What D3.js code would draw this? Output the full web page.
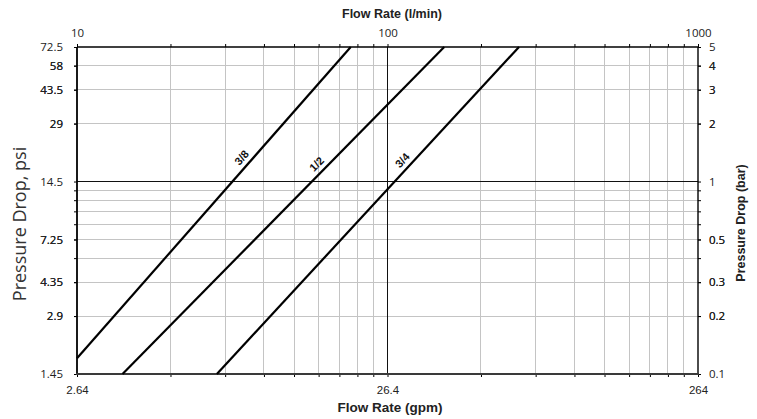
<!DOCTYPE html>
<html><head><meta charset="utf-8">
<script src="https://cdn.jsdelivr.net/npm/d3@7"></script>
<style>
body{margin:0;background:#fff;}
svg{display:block;}
</style></head><body>
<svg id="chart" width="757" height="419"></svg>
<script>
// Tick labels: flow in gpm (bottom) and l/min (top); pressure in psi (left) and bar (right)
const gpmTicks = [2.64, 26.4, 264];
const lpmTicks = [10, 100, 1000];
const psiTicks = [72.5, 58, 43.5, 29, 14.5, 7.25, 4.35, 2.9, 1.45];
const barTicks = [5, 4, 3, 2, 1, 0.5, 0.3, 0.2, 0.1];

// Grid divisions
const lpmGrid = [20, 30, 40, 50, 60, 70, 80, 90, 200, 300, 400, 500, 600, 700, 800, 900];
const barGrid = [0.2, 0.3, 0.4, 0.5, 0.6, 0.7, 0.8, 0.9, 2, 3, 4];
const lpmMajor = [100];
const barMajor = [1];

// Valve sizes: each curve is straight on log-log axes, given by its end points
const sizes = ["3/8", "1/2", "3/4"];
const curveGpm = [[2.64, 20.1], [3.70, 40.2], [7.45, 70.0]];
const curvePsi = [[1.75, 72.5], [1.45, 72.5], [1.45, 72.5]];
const labelPsi = [18, 16.6, 17.4];

const svg = d3.select("#chart");
const m = {left: 77, right: 698, top: 47, bottom: 374};

const x = d3.scaleLog().domain([2.64, 264]).range([m.left, m.right]);
const xTop = d3.scaleLog().domain([10, 1000]).range([m.left, m.right]);
const y = d3.scaleLog().domain([1.45, 72.5]).range([m.bottom, m.top]);
const yRight = d3.scaleLog().domain([0.1, 5]).range([m.bottom, m.top]);

const tickFont = "'Open Sans', sans-serif";
const gridColor = "#c4c4c4";

// grid
const grid = svg.append("g");
grid.selectAll("line.v").data(lpmGrid).join("line")
  .attr("x1", d => xTop(d)).attr("x2", d => xTop(d))
  .attr("y1", m.top).attr("y2", m.bottom)
  .attr("stroke", gridColor).attr("stroke-width", 1).attr("shape-rendering", "crispEdges");
grid.selectAll("line.h").data(barGrid).join("line")
  .attr("y1", d => yRight(d)).attr("y2", d => yRight(d))
  .attr("x1", m.left).attr("x2", m.right)
  .attr("stroke", gridColor).attr("stroke-width", 1).attr("shape-rendering", "crispEdges");
grid.selectAll("line.vm").data(lpmMajor).join("line")
  .attr("x1", d => xTop(d)).attr("x2", d => xTop(d))
  .attr("y1", m.top).attr("y2", m.bottom)
  .attr("stroke", "#111").attr("stroke-width", 1).attr("shape-rendering", "crispEdges");
grid.selectAll("line.hm").data(barMajor).join("line")
  .attr("y1", d => yRight(d)).attr("y2", d => yRight(d))
  .attr("x1", m.left).attr("x2", m.right)
  .attr("stroke", "#111").attr("stroke-width", 1).attr("shape-rendering", "crispEdges");

// axes
function styleAxis(g, font, size) {
  g.select(".domain").remove();
  g.selectAll(".tick line").attr("stroke", "#000").attr("stroke-width", 1);
  g.selectAll("text").attr("font-family", font).attr("font-size", size).attr("fill", "#222");
}
const allLpm = lpmTicks.concat(lpmGrid);
const allBar = barTicks.concat(barGrid);

svg.append("g").attr("transform", `translate(0,${m.top})`)
  .call(d3.axisTop(xTop).tickValues(allLpm).tickSize(3).tickPadding(7)
    .tickFormat(d => lpmTicks.includes(d) ? String(d) : ""))
  .call(g => styleAxis(g, tickFont, "11.5px"));

svg.append("g").attr("transform", `translate(0,${m.bottom})`)
  .call(d3.axisBottom(xTop).tickValues(allLpm).tickSize(3).tickPadding(9)
    .tickFormat(() => ""))
  .call(g => styleAxis(g, tickFont, "11.5px"));
svg.append("g").attr("transform", `translate(0,${m.bottom})`)
  .call(d3.axisBottom(x).tickValues(gpmTicks).tickSize(0).tickPadding(12)
    .tickFormat(d => String(d)))
  .call(g => styleAxis(g, "'Liberation Sans', Arial, sans-serif", "11.5px"));

svg.append("g").attr("transform", `translate(${m.left},0)`)
  .call(d3.axisLeft(yRight).tickValues(allBar).tickSize(3).tickPadding(11)
    .tickFormat(d => { const i = barTicks.indexOf(d); return i >= 0 ? String(psiTicks[i]) : ""; }))
  .call(g => styleAxis(g, tickFont, "11.5px"));

svg.append("g").attr("transform", `translate(${m.right},0)`)
  .call(d3.axisRight(yRight).tickValues(allBar).tickSize(3).tickPadding(8)
    .tickFormat(d => barTicks.includes(d) ? String(d) : ""))
  .call(g => styleAxis(g, tickFont, "11.5px"));

// frame
svg.append("line").attr("x1", m.left).attr("x2", m.right).attr("y1", m.top).attr("y2", m.top)
  .attr("stroke", "#000").attr("stroke-width", 1.4);
svg.append("line").attr("x1", m.right).attr("x2", m.right).attr("y1", m.top).attr("y2", m.bottom)
  .attr("stroke", "#000").attr("stroke-width", 1.4);
svg.append("line").attr("x1", m.left).attr("x2", m.left).attr("y1", m.top).attr("y2", m.bottom)
  .attr("stroke", "#000").attr("stroke-width", 1.8);
svg.append("line").attr("x1", m.left - 1).attr("x2", m.right + 1).attr("y1", m.bottom).attr("y2", m.bottom)
  .attr("stroke", "#3a3a3a").attr("stroke-width", 2.2);

// curves
const curves = sizes.map((s, i) => ({
  name: s,
  pts: [[curveGpm[i][0], curvePsi[i][0]], [curveGpm[i][1], curvePsi[i][1]]],
  labelPsi: labelPsi[i]
}));
const line = d3.line().x(d => x(d[0])).y(d => y(d[1]));
svg.append("g").selectAll("path").data(curves).join("path")
  .attr("d", d => line(d.pts))
  .attr("fill", "none").attr("stroke", "#000").attr("stroke-width", 2.2);

// size labels, set along each curve
svg.append("g").selectAll("text").data(curves).join("text")
  .attr("transform", d => {
    const [p0, p1] = d.pts;
    const t = Math.log(d.labelPsi / p0[1]) / Math.log(p1[1] / p0[1]);
    const q = p0[0] * Math.pow(p1[0] / p0[0], t);
    const ang = Math.atan2(y(p1[1]) - y(p0[1]), x(p1[0]) - x(p0[0])) * 180 / Math.PI;
    return `translate(${x(q)},${y(d.labelPsi)}) rotate(${ang})`;
  })
  .attr("dy", -5)
  .attr("text-anchor", "middle")
  .attr("font-family", "'Liberation Sans', Arial, sans-serif")
  .attr("font-weight", "bold").attr("font-size", "11px").attr("fill", "#111")
  .text(d => d.name);

// axis titles
svg.append("text").attr("x", 392).attr("y", 18).attr("text-anchor", "middle")
  .attr("font-family", "'Liberation Sans', Arial, sans-serif").attr("font-weight", "bold")
  .attr("font-size", "12.5px").attr("fill", "#222").text("Flow Rate (l/min)");
svg.append("text").attr("x", 390).attr("y", 412).attr("text-anchor", "middle")
  .attr("font-family", "'Liberation Sans', Arial, sans-serif").attr("font-weight", "bold")
  .attr("font-size", "13.5px").attr("fill", "#222").text("Flow Rate (gpm)");
svg.append("text").attr("transform", "translate(745,223) rotate(-90)").attr("text-anchor", "middle")
  .attr("font-family", "'Liberation Sans', Arial, sans-serif").attr("font-weight", "bold")
  .attr("font-size", "12.5px").attr("fill", "#222").text("Pressure Drop (bar)");
svg.append("text").attr("transform", "translate(26,224) rotate(-90)").attr("text-anchor", "middle")
  .attr("font-family", "'Open Sans', sans-serif")
  .attr("font-size", "18px").attr("fill", "#333").text("Pressure Drop, psi");
</script>
</body></html>
